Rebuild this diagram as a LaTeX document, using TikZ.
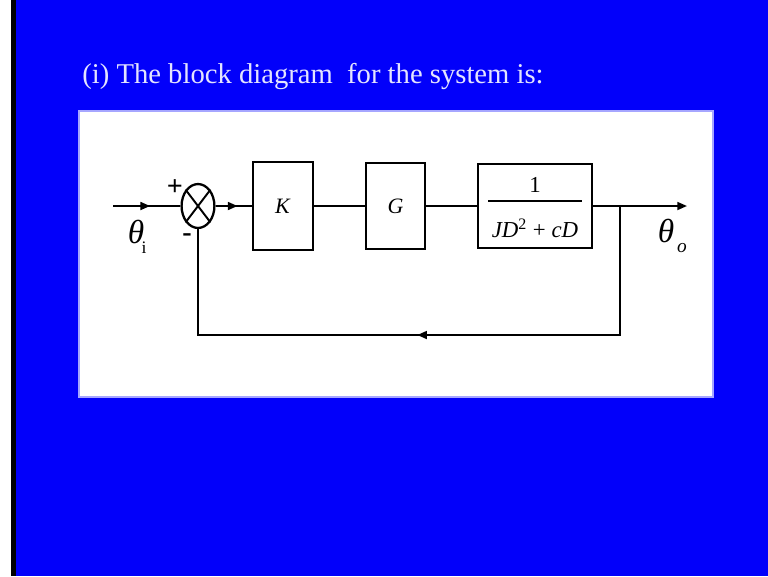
\documentclass[tikz,border=0pt]{standalone}
\usepackage{fontspec}
\setmainfont{Liberation Serif}
\usetikzlibrary{shapes.geometric,arrows.meta,decorations.markings}

\definecolor{slideblue}{RGB}{2,0,250}
\definecolor{titlewhite}{RGB}{228,228,255}

\tikzset{
  sig/.style={line width=1.1pt},
  tip/.style={-{Triangle[length=5.5pt,width=4.5pt]}},
  midarrow/.style={postaction={decorate},
    decoration={markings,mark=at position #1 with {\arrow{Triangle[length=5.5pt,width=4.5pt]}}}},
  block/.style={draw, line width=1.1pt, inner sep=0pt,
    font=\fontsize{12.5}{14}\selectfont},
  sumnode/.style={draw, ellipse, line width=1.3pt, inner sep=0pt,
    minimum width=18.7pt, minimum height=25pt},
  lbl/.style={inner sep=0pt, font=\fontsize{19}{20}\selectfont},
  sign/.style={inner sep=0pt, font=\fontsize{16}{16}\bfseries},
}

\begin{document}
\begin{tikzpicture}[x=0.02cm, y=-0.02cm]
  % Slide background
  \fill[white] (0,0) rectangle (768,576);
  \useasboundingbox (0,0) rectangle (768,576);
  \fill[black] (11,0) rectangle (16,576);
  \fill[slideblue] (16,0) rectangle (768,576);
  \filldraw[fill=white, draw=blue!35, line width=0.6pt] (79,111) rectangle (713,397);

  % Title
  \node[anchor=base west, inner sep=0pt, text=titlewhite,
    font=\fontsize{16.3}{19}\selectfont] (title) at (82,83)
    {(i) The block diagram~ for the system is:};

  % Define blocks
  \node[sumnode] (sum) at (198,206) {};
  \node[block, minimum width=34pt, minimum height=50.5pt] (k) at (283,206) {\textit{K}};
  \node[block, minimum width=33.5pt, minimum height=49pt] (g) at (395.5,206) {\textit{G}};
  \node[block, minimum width=64.6pt, minimum height=47.6pt,
    font=\fontsize{13}{14}\selectfont] (plant) at (535,206)
    {\setlength{\arrayrulewidth}{1pt}%
     \begin{tabular}{@{\hspace{2pt}}c@{\hspace{2pt}}}
       \rule{0pt}{14.7pt}1\\ \hline
       \rule{0pt}{20.3pt}\textit{JD}\textsuperscript{2} + \textit{cD}
     \end{tabular}};

  % Free ends
  \coordinate (in) at (113,206);
  \coordinate (out) at (687,206);
  \coordinate (branch) at (620,206);
  \coordinate (fb) at (198,335);

  % Labels
  \node[lbl] (thetai) at (136,232) {\textit{θ}};
  \node[inner sep=0pt, font=\fontsize{10}{10}\selectfont] (subi) at (144,248) {i};
  \node[lbl] (thetao) at (666,231) {\textit{θ}};
  \node[inner sep=0pt, font=\fontsize{11}{11}\selectfont] (subo) at (682,248) {\textit{o}};
  \node[sign] (plus) at (175,188) {+};
  \node[sign] (minus) at (187,238) {-};

  % Draw diagram
  \draw[sig] (sum.north east) -- (sum.south west)
             (sum.north west) -- (sum.south east);
  \draw[sig, midarrow=0.55] (in) -- (sum);
  \draw[sig, midarrow=0.6] (sum) -- (k);
  \draw[sig] (k) -- (g);
  \draw[sig] (g) -- (plant);
  \draw[sig, tip] (plant) -- (out);
  % Feedback path
  \draw[sig, midarrow=0.505] (branch) |- (fb) -- (sum);
\end{tikzpicture}
\end{document}
